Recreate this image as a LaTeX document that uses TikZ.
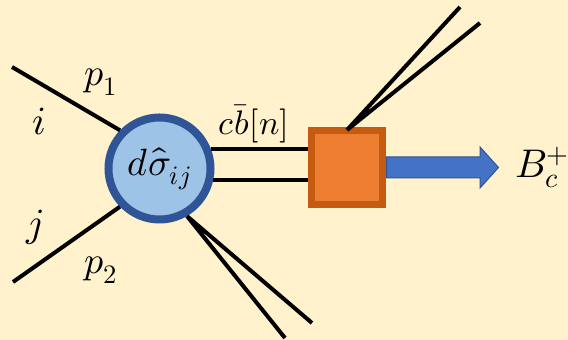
\documentclass[tikz,border=0pt]{standalone}
\usepackage{amsmath}
\usepackage{unicode-math}
\usepackage{xcolor}
\usepackage{tikz}
\usetikzlibrary{shapes.arrows,positioning}
\definecolor{bgyellow}{HTML}{FFF2CC}
\definecolor{xfill}{HTML}{9DC3E6}
\definecolor{xborder}{HTML}{2F5597}
\definecolor{hfill}{HTML}{ED7D31}
\definecolor{hborder}{HTML}{C55A11}
\definecolor{arrfill}{HTML}{4472C4}
\begin{document}
\begin{tikzpicture}[x=0.5pt,y=-0.5pt,
    leg/.style={black,line width=2pt},
    lbl/.style={inner sep=0pt,font=\fontsize{19}{22}\selectfont}]
        \fill[bgyellow] (0,0) rectangle (568,340);
        \useasboundingbox (0,0) rectangle (568,340);

        %hard scattering and hadronization
        \node[style={circle,fill=xfill,draw=xborder,line width=4pt,minimum size=51pt,inner sep=0pt},font=\fontsize{19}{21}\selectfont] (xsec) at (159.5,168.5){$d\hat{\sigma}_{ij}$};
        \node[style={rectangle,fill=hfill,draw=hborder,line width=3.5pt,minimum width=35.5pt,minimum height=37pt,inner sep=0pt}] (blob) at (347,167.5){};
        \node[style={single arrow,fill=arrfill,draw=xborder,line width=0.5pt,minimum height=56pt,inner sep=5pt,single arrow head extend=5pt,single arrow tip angle=96,anchor=tail}] (arr) at (blob.east){};
        \node[inner sep=0pt,font=\fontsize{20}{24}\selectfont,right=8pt of arr.tip] (bc){$B_c^+$};

        %free ends
        \coordinate (inI) at (12,67);
        \coordinate (inJ) at (13,282);
        \coordinate (outA) at (285,338);
        \coordinate (outB) at (312,323);
        \coordinate (jetA) at (460,7);
        \coordinate (jetB) at (480,23);

        \draw[leg] (inI)--(xsec.136) (inJ)--(xsec.-136) (xsec.-60)--(outA) (xsec.-60)--(outB);
        \draw[leg] (xsec.21)--(blob.west |- xsec.21) (xsec.-12.6)--(blob.west |- xsec.-12.6);
        \draw[leg] ([yshift=-1.5pt]blob.north)--(jetA) ([yshift=-1.5pt]blob.north)--(jetB);

        %labels
        \node[lbl] (pone) at (101,82){$p_1$};
        \node[lbl] (ptwo) at (101,270){$p_2$};
        \node[lbl,font=\fontsize{20}{24}\selectfont] (ilbl) at (39,122){$i$};
        \node[lbl,font=\fontsize{20}{24}\selectfont] (jlbl) at (35,227){$j$};
        \node[lbl,font=\fontsize{17}{20}\selectfont] (cb) at (254,124){$c\bar{b}[n]$};
\end{tikzpicture}
\end{document}
